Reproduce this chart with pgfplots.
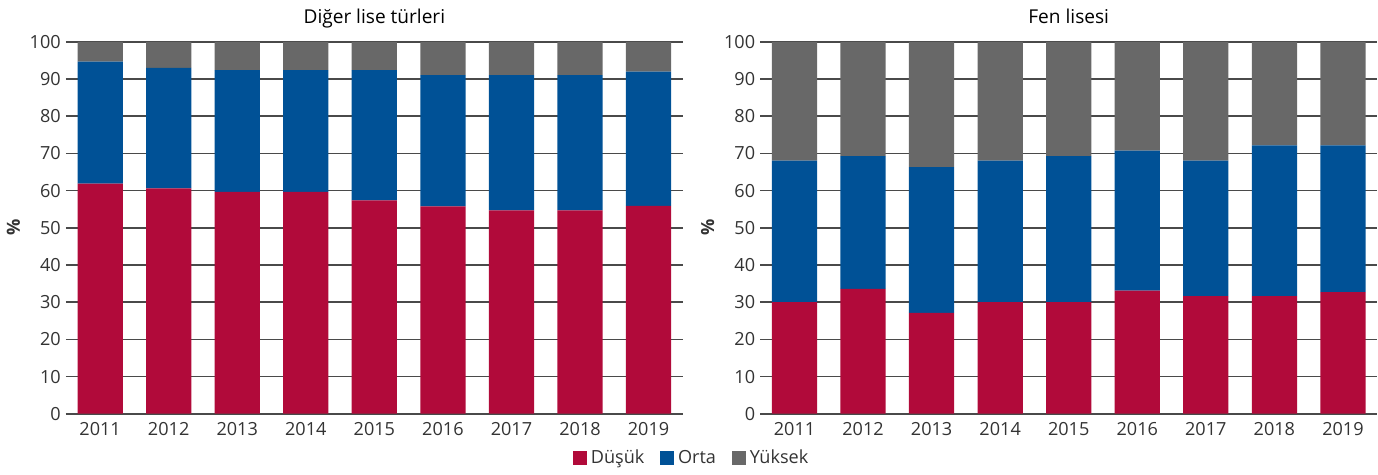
\documentclass[border=0pt]{standalone}
\usepackage{pgfplots}
\pgfplotsset{compat=1.18}
\usepackage{pgfplotstable}
\usepackage{fontspec}
\setmainfont{Open Sans}
\definecolor{dusuk}{HTML}{B10A3A}
\definecolor{orta}{HTML}{005196}
\definecolor{yuksek}{HTML}{686868}
\definecolor{gridc}{HTML}{4A4A4A}
\definecolor{txt}{HTML}{333333}

\pgfplotstableread{
x dusuk orta yuksek
0 61.9 32.8 5.3
1 60.6 32.4 7.0
2 59.7 32.7 7.6
3 59.7 32.7 7.6
4 57.4 35.0 7.6
5 55.8 35.3 8.9
6 54.7 36.4 8.9
7 54.7 36.4 8.9
8 55.9 36.1 8.0
}\diger
\pgfplotstableread{
x dusuk orta yuksek
0 30.0 38.1 31.9
1 33.6 35.7 30.7
2 27.1 39.2 33.7
3 30.0 38.1 31.9
4 30.0 39.3 30.7
5 33.1 37.7 29.2
6 31.6 36.5 31.9
7 31.6 40.6 27.8
8 32.7 39.5 27.8
}\fen

\pgfplotsset{
  mystyle/.style={
    scale only axis,
    width=307pt, height=185pt,
    ybar stacked, bar width=0.66,
    xmin=-0.5, xmax=8.5, ymin=0, ymax=100,
    ytick={0,10,...,100},
    xtick=data,
    xticklabels={2011,2012,2013,2014,2015,2016,2017,2018,2019},
    axis x line*=bottom, axis y line*=left,
    y axis line style={draw=none},
    x axis line style={draw=gridc, line width=0.8pt},
    tick style={draw=none},
    ymajorgrids, grid style={draw=gridc, line width=0.8pt},
    tick label style={font=\fontsize{9}{11}\selectfont, text=txt},
    /pgf/number format/assume math mode=true,
    yticklabel style={xshift=1pt},
    xticklabel style={yshift=-1pt},
    ylabel={\%}, ylabel style={font=\fontsize{9}{11}\selectfont\bfseries, text=txt, yshift=-2pt},
    title style={font=\fontsize{9.5}{11}\selectfont, text=black, text height=8.5pt, text depth=2.5pt, yshift=-3pt},
    legend image code/.code={\fill[##1] (0pt,-3.4pt) rectangle (6.8pt,3.4pt);},
    every axis plot/.append style={draw=none},
  }
}

\begin{document}
\begin{tikzpicture}
\begin{axis}[mystyle, title={Diğer lise türleri},
  legend columns=3,
  legend style={at={(1.016,-0.119)}, anchor=center, draw=none, fill=none,
    font=\fontsize{9}{11}\selectfont, text=txt,
    /tikz/every even column/.append style={column sep=6pt}},
]
\addplot[fill=dusuk] table[x=x,y=dusuk] {\diger};
\addplot[fill=orta] table[x=x,y=orta] {\diger};
\addplot[fill=yuksek] table[x=x,y=yuksek] {\diger};
\legend{Düşük, Orta, Yüksek}
\end{axis}
\begin{axis}[mystyle, title={Fen lisesi}, xshift=345.5pt]
\addplot[fill=dusuk] table[x=x,y=dusuk] {\fen};
\addplot[fill=orta] table[x=x,y=orta] {\fen};
\addplot[fill=yuksek] table[x=x,y=yuksek] {\fen};
\end{axis}
\end{tikzpicture}
\end{document}
